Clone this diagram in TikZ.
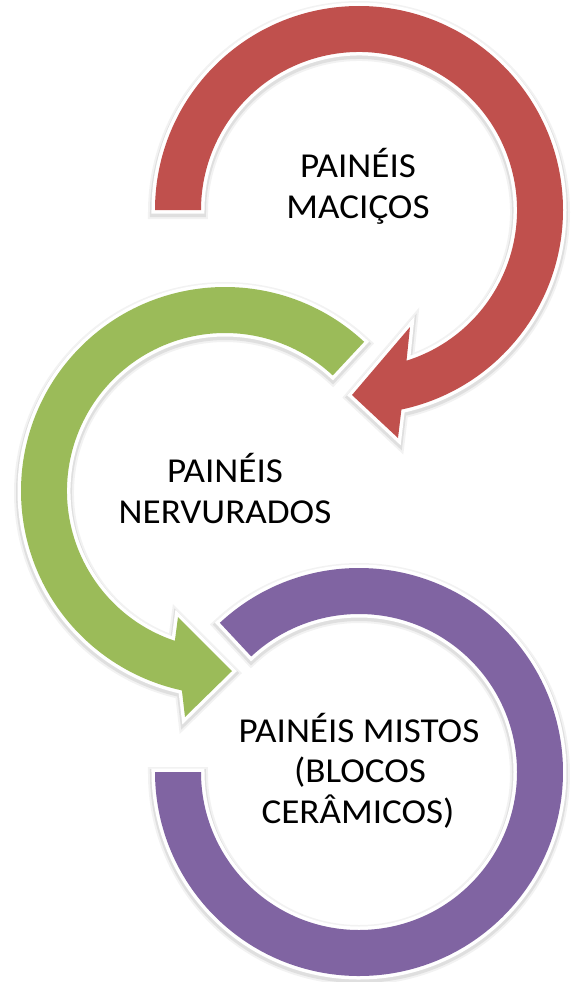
\documentclass[tikz,border=0pt]{standalone}
\usepackage{fontspec}
\setmainfont{Carlito}[FakeStretch=1.06]
\definecolor{redc}{HTML}{C0504D}
\definecolor{greenc}{HTML}{9BBB59}
\definecolor{purplec}{HTML}{8064A2}
\begin{document}
\begin{tikzpicture}[x=1pt,y=1pt,
  ringshape/.style={line join=miter,
    preaction={draw=black, opacity=0.05, line width=14pt, transform canvas={yshift=-2pt}},
    preaction={draw=black, opacity=0.08, line width=10pt, transform canvas={yshift=-2pt}},
    preaction={draw=white, line width=7pt}},
  lbl/.style={font=\fontsize{35}{41}\selectfont, text=black, anchor=base, inner sep=0pt}]
\useasboundingbox[fill=white] (0,0) rectangle (571,-982);
% red arrow
\begin{scope}[shift={(359,-210)}]
\path[ringshape, fill=redc] (180:204) arc[start angle=180, end angle=-78, radius=204pt]
  -- (39,-228) -- (-7,-185) -- (51,-117) -- (-72.5:158)
  arc[start angle=-72.5, end angle=180, radius=158pt] -- cycle;
\end{scope}
% green arrow
\begin{scope}[shift={(225,-491)}]
\path[ringshape, fill=greenc] (47:204) arc[start angle=47, end angle=257.8, radius=204pt]
  -- (-40,-226) -- (7,-180) -- (-47,-126) -- (251.5:158)
  arc[start angle=251.5, end angle=47, radius=158pt] -- cycle;
\end{scope}
% purple ring
\begin{scope}[shift={(359,-772)}]
\path[ringshape, fill=purplec] (133:204) arc[start angle=133, end angle=-180, radius=204pt]
  -- (-180:158) arc[start angle=-180, end angle=133, radius=158pt] -- cycle;
\end{scope}
% labels
\node[lbl] (r1) at (358,-177) {PAINÉIS};
\node[lbl] (r2) at (358,-218) {MACIÇOS};
\node[lbl] (g1) at (225,-482) {PAINÉIS};
\node[lbl] (g2) at (225,-523) {NERVURADOS};
\node[lbl] (p1) at (359,-742) {PAINÉIS MISTOS};
\node[lbl] (p2) at (360,-782) {(BLOCOS};
\node[lbl] (p3) at (358,-823) {CERÂMICOS)};
\end{tikzpicture}
\end{document}
